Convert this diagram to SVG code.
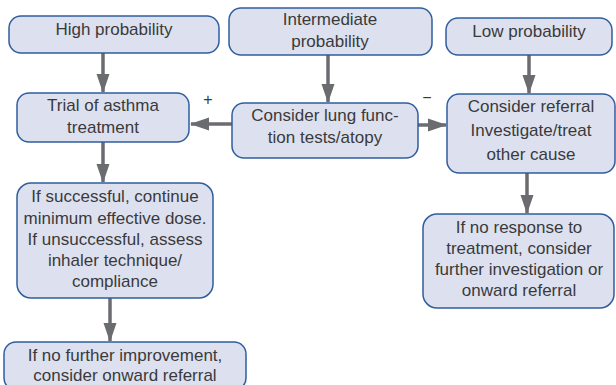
<svg xmlns="http://www.w3.org/2000/svg" width="616" height="385" viewBox="0 0 616 385">
<style>
.box{fill:#dde1ef;stroke:#2f5d9e;stroke-width:1.5}
.t{font-family:"Liberation Sans",Arial,sans-serif;font-size:17px;fill:#3a3a3c;text-anchor:middle}
.c{stroke:#6b6c70;stroke-width:3.5;fill:none}
.s{font-family:"Liberation Sans",Arial,sans-serif;font-size:16px;fill:#3a3a3c;text-anchor:middle}
</style>
<defs>
<marker id="ah" markerWidth="19" markerHeight="14" refX="18" refY="7" orient="auto" markerUnits="userSpaceOnUse" viewBox="0 0 19 14">
<path d="M0,0.5 L19,7 L0,13.5 z" fill="#6b6c70"/>
</marker>
</defs>
<rect width="616" height="385" fill="#ffffff"/>
<g id="connectors">
<line class="c" x1="103" y1="53" x2="103" y2="92" marker-end="url(#ah)"/>
<line class="c" x1="328" y1="55" x2="328" y2="102" marker-end="url(#ah)"/>
<line class="c" x1="529" y1="55" x2="529" y2="93" marker-end="url(#ah)"/>
<line class="c" x1="232" y1="124" x2="191" y2="124" marker-end="url(#ah)"/>
<line class="c" x1="418" y1="125" x2="446" y2="125" marker-end="url(#ah)"/>
<line class="c" x1="103" y1="142" x2="103" y2="182" marker-end="url(#ah)"/>
<line class="c" x1="110" y1="298" x2="110" y2="341" marker-end="url(#ah)"/>
<line class="c" x1="527" y1="173" x2="527" y2="213" marker-end="url(#ah)"/>
<text class="s" x="208" y="105">+</text>
<text class="s" x="427" y="103">−</text>
</g>
<g id="high">
<rect class="box" x="9" y="16" width="210" height="37" rx="12"/>
<text class="t" x="114" y="35">High probability</text>
</g>
<g id="intermediate">
<rect class="box" x="229" y="8" width="203" height="47" rx="12"/>
<text class="t" x="330" y="25">Intermediate</text>
<text class="t" x="330" y="47">probability</text>
</g>
<g id="low">
<rect class="box" x="446" y="18" width="166" height="37" rx="12"/>
<text class="t" x="529" y="37">Low probability</text>
</g>
<g id="trial">
<rect class="box" x="17" y="93" width="172" height="49" rx="12"/>
<text class="t" x="103" y="111">Trial of asthma</text>
<text class="t" x="103" y="133">treatment</text>
</g>
<g id="lung">
<rect class="box" x="232" y="103" width="186" height="55" rx="12"/>
<text class="t" x="325" y="121">Consider lung func-</text>
<text class="t" x="325" y="143">tion tests/atopy</text>
</g>
<g id="referral">
<rect class="box" x="447" y="94" width="168" height="79" rx="12"/>
<text class="t" x="531" y="112">Consider referral</text>
<text class="t" x="531" y="136">Investigate/treat</text>
<text class="t" x="531" y="160">other cause</text>
</g>
<g id="successful">
<rect class="box" x="17" y="183" width="196" height="115" rx="14"/>
<text class="t" x="115" y="202">If successful, continue</text>
<text class="t" x="115" y="223.5">minimum effective dose.</text>
<text class="t" x="115" y="244.5">If unsuccessful, assess</text>
<text class="t" x="115" y="265.5">inhaler technique/</text>
<text class="t" x="115" y="287">compliance</text>
</g>
<g id="noresponse">
<rect class="box" x="423" y="214" width="191" height="94" rx="14"/>
<text class="t" x="519" y="232.5">If no response to</text>
<text class="t" x="519" y="253.5">treatment, consider</text>
<text class="t" x="519" y="274.5">further investigation or</text>
<text class="t" x="519" y="296">onward referral</text>
</g>
<g id="onward">
<rect class="box" x="4" y="342" width="242" height="48" rx="12"/>
<text class="t" x="125" y="360.5">If no further improvement,</text>
<text class="t" x="125" y="380.5">consider onward referral</text>
</g>
</svg>
